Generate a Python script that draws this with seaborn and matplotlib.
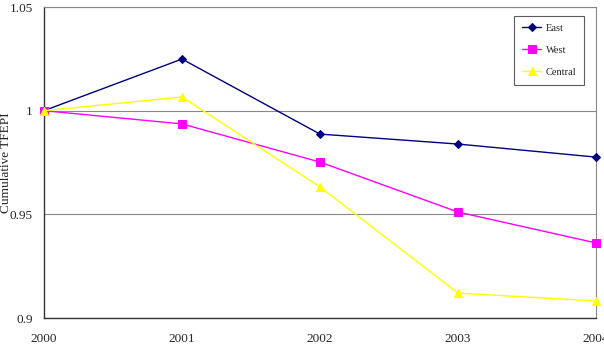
import matplotlib
matplotlib.use("Agg")
import matplotlib.pyplot as plt
import seaborn as sns
import pandas as pd

years = [2000, 2001, 2002, 2003, 2004]
east = [1.0, 1.0249, 0.9887, 0.9839, 0.9776]
west = [1.0, 0.9936, 0.9752, 0.9511, 0.9362]
central = [1.0, 1.0066, 0.9632, 0.9120, 0.9082]
series = ["East", "West", "Central"]
yticks = [0.9, 0.95, 1.0, 1.05]
ytick_labels = ["0.9", "0.95", "1", "1.05"]

df = pd.DataFrame({
    "Year": years * 3,
    "TFEPI": east + west + central,
    "Region": ["East"] * 5 + ["West"] * 5 + ["Central"] * 5,
})

sns.set_style("white")
plt.rcParams["font.family"] = ["Liberation Serif", "DejaVu Serif"]

fig = plt.figure(figsize=(6.04, 3.61), dpi=100)
ax = fig.add_axes([44 / 604, 1 - 318 / 361, (596 - 44) / 604, (318 - 7) / 361])

palette = {"East": "#000080", "West": "#FF00FF", "Central": "#FFFF00"}
markers = {"East": "D", "West": "s", "Central": "^"}
sizes = {"East": 4, "West": 5.5, "Central": 6}

for name in series:
    sub = df[df["Region"] == name]
    sns.lineplot(data=sub, x="Year", y="TFEPI", ax=ax, color=palette[name],
                 marker=markers[name], markersize=sizes[name],
                 markeredgecolor=palette[name], linewidth=1.0, label=name,
                 clip_on=False, zorder=3)

ax.set_xlim(2000, 2004)
ax.set_ylim(0.9, 1.05)
ax.set_xticks(years)
ax.set_xticklabels([str(y) for y in years], fontsize=9.5)
ax.set_yticks(yticks)
ax.set_yticklabels(ytick_labels, fontsize=9.5)
ax.set_xlabel("")
ax.set_ylabel("Cumulative TFEPI", fontsize=9.5)
ax.yaxis.set_label_coords((12 - 44) / 552, 0.5)

ax.grid(axis="y", color="#888888", linewidth=0.8)
ax.grid(axis="x", visible=False)
for s in ["left", "bottom"]:
    ax.spines[s].set_color("#333333")
    ax.spines[s].set_linewidth(1.0)
for s in ["top", "right"]:
    ax.spines[s].set_color("#888888")
    ax.spines[s].set_linewidth(0.8)

ax.tick_params(axis="x", direction="in", length=3, color="#333333", pad=11)
ax.tick_params(axis="y", direction="out", length=3, color="#888888", pad=5)

leg = ax.legend(loc="upper right", bbox_to_anchor=((584 - 44) / 552, (318 - 16) / 311),
                borderaxespad=0, fontsize=7.5,
                frameon=True, fancybox=False, edgecolor="#333333",
                handlelength=1.9, labelspacing=1.2, borderpad=0.75,
                handletextpad=0.4)
leg.get_frame().set_linewidth(0.8)

fig.text(0.52, -0.012, "23", fontsize=8, ha="center", va="center", color="#333333")

fig.savefig("out.png", dpi=100)
